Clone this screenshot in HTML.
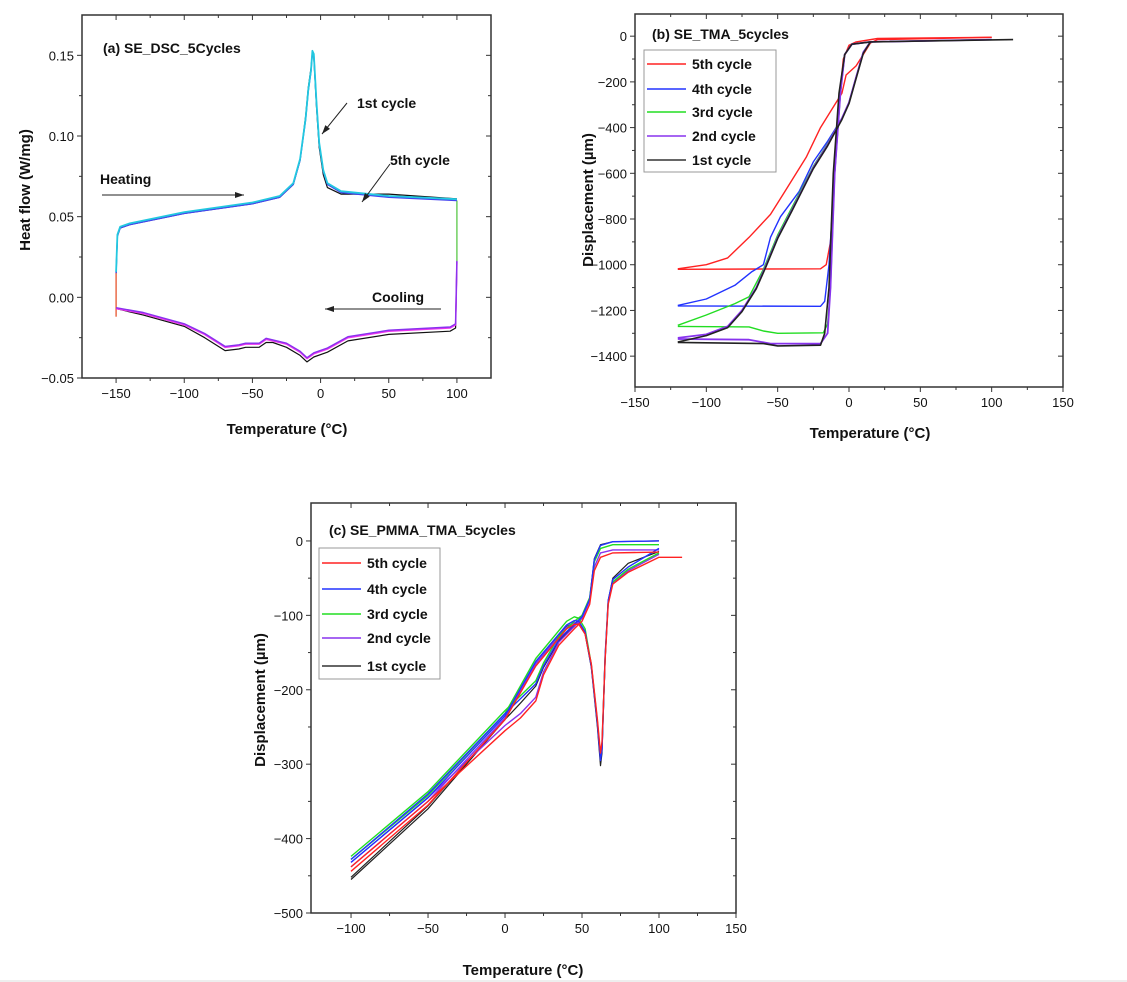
<!DOCTYPE html>
<html><head><meta charset="utf-8">
<style>
html,body{margin:0;padding:0;background:#fff;}
svg{display:block;font-family:"Liberation Sans",sans-serif;}
.tk{font-size:13px;fill:#111;}
.ttl{font-size:15px;font-weight:bold;fill:#111;}
.lab{font-size:14px;font-weight:bold;fill:#111;}
</style></head>
<body>
<svg id="fig" width="1127" height="982" viewBox="0 0 1127 982"></svg>
<script>
// ---------- Panel (a) data: DSC ----------
const aXTicks = [-150,-100,-50,0,50,100];
const aYTicks = [-0.05,0,0.05,0.10,0.15];
const aYTickLabels = ["\u22120.05","0.00","0.05","0.10","0.15"];
const aHeatX = [-150,-149,-147,-140,-100,-50,-30,-20,-15,-11,-9,-7,-6,-5,-3,-1,2,5,15,50,100];
const aHeatY = [0.015,0.038,0.043,0.045,0.052,0.058,0.062,0.070,0.085,0.110,0.128,0.140,0.152,0.150,0.120,0.095,0.078,0.070,0.065,0.062,0.060];
const aHeatBlackY = [0.015,0.038,0.043,0.045,0.052,0.058,0.062,0.070,0.085,0.112,0.130,0.142,0.151,0.149,0.118,0.093,0.076,0.068,0.064,0.064,0.061];
const aCoolX = [100,99,95,50,20,5,-5,-10,-15,-25,-35,-40,-45,-55,-60,-70,-85,-100,-130,-150];
const aCoolY = [0.022,-0.017,-0.019,-0.021,-0.025,-0.032,-0.035,-0.038,-0.034,-0.029,-0.027,-0.026,-0.029,-0.029,-0.030,-0.031,-0.023,-0.017,-0.010,-0.007];
const aCoolBlackY = [0.022,-0.019,-0.021,-0.023,-0.027,-0.034,-0.037,-0.040,-0.036,-0.031,-0.028,-0.028,-0.031,-0.031,-0.032,-0.033,-0.025,-0.018,-0.011,-0.007];

// ---------- Panel (b) data: TMA ----------
const bXTicks = [-150,-100,-50,0,50,100,150];
const bYTicks = [0,-200,-400,-600,-800,-1000,-1200,-1400];
const bRedX = [-120,-20,-16,-13,-10,-7,-4,0,5,20,100];
const bRedY = [-1020,-1018,-1000,-900,-600,-300,-100,-40,-25,-10,-5];
const bRed2X = [-120,-100,-85,-70,-55,-45,-30,-20,-12,-5,-2,5,10,15,20,100];
const bRed2Y = [-1018,-1000,-970,-880,-780,-680,-530,-400,-320,-250,-170,-130,-80,-30,-15,-5];
const bBlueX = [-120,-20,-17,-14,-10,-6,-3,2,15,100];
const bBlueY = [-1180,-1182,-1160,-1000,-600,-250,-80,-35,-25,-15];
const bBlue2X = [-120,-100,-80,-68,-60,-55,-48,-35,-25,-15,-5,0,5,10,15];
const bBlue2Y = [-1178,-1150,-1090,-1030,-1000,-880,-790,-680,-550,-460,-360,-290,-180,-70,-25];
const bGreenX = [-120,-70,-60,-50,-18,-15,-13,-10,-6,-3,2,15,100];
const bGreenY = [-1270,-1272,-1290,-1300,-1298,-1260,-1100,-600,-250,-80,-35,-25,-15];
const bGreen2X = [-120,-100,-80,-70,-60,-50,-40,-25,-15,-5,0,5,10,15];
const bGreen2Y = [-1265,-1220,-1170,-1140,-1020,-870,-750,-570,-470,-360,-290,-180,-70,-25];
const bPurpleX = [-120,-70,-55,-20,-15,-13,-10,-6,-3,2,15,100];
const bPurpleY = [-1325,-1328,-1345,-1345,-1300,-1100,-600,-250,-80,-35,-25,-15];
const bPurple2X = [-120,-100,-85,-75,-65,-58,-50,-40,-25,-15,-5,0,5,10,15];
const bPurple2Y = [-1320,-1305,-1270,-1200,-1100,-1000,-880,-760,-575,-475,-360,-290,-180,-70,-25];
const bBlackX = [-120,-60,-50,-20,-17,-14,-11,-7,-3,2,15,115];
const bBlackY = [-1340,-1345,-1355,-1352,-1300,-1100,-600,-250,-80,-35,-25,-15];
const bBlack2X = [-120,-100,-85,-75,-65,-58,-50,-40,-25,-15,-5,0,5,10,15];
const bBlack2Y = [-1338,-1310,-1275,-1205,-1105,-1005,-885,-765,-580,-480,-365,-295,-185,-75,-25];

// ---------- Panel (c) data: PMMA TMA ----------
const cXTicks = [-100,-50,0,50,100,150];
const cYTicks = [0,-100,-200,-300,-400,-500];
const cHeatX = [-100,-50,0,10,20,25,35,45,50,55,58,62,70,100];
const cCoolX = [100,80,70,67,65,63,62,60,56,52,48,45,40,20,0,-50,-100];
const cRedCoolX = [115,100,80,70,67,65,63,62,60,56,52,48,45,40,20,0,-50,-100];
const cRedH = [-438,-350,-255,-238,-215,-180,-140,-118,-108,-85,-40,-22,-16,-15];
const cRedC = [-22,-22,-42,-58,-85,-160,-270,-285,-240,-165,-125,-112,-112,-118,-168,-240,-355,-444];
const cBlueH = [-428,-340,-232,-212,-192,-168,-132,-112,-102,-78,-25,-6,-1,0];
const cBlueC = [-10,-35,-52,-80,-155,-280,-295,-245,-168,-122,-108,-107,-113,-162,-235,-345,-432];
const cGreenH = [-424,-337,-228,-208,-188,-164,-128,-108,-100,-76,-28,-10,-5,-5];
const cGreenC = [-16,-38,-55,-82,-157,-275,-290,-243,-166,-118,-104,-102,-108,-158,-232,-342,-428];
const cPurpleH = [-432,-345,-248,-232,-210,-176,-136,-115,-104,-80,-35,-16,-12,-12];
const cPurpleC = [-18,-40,-56,-83,-158,-278,-292,-244,-167,-124,-110,-110,-116,-165,-238,-350,-438];
const cBlackH = [-452,-356,-240,-218,-195,-170,-134,-114,-104,-78,-24,-5,-1,0];
const cBlackC = [-14,-30,-50,-80,-160,-285,-302,-250,-170,-125,-112,-110,-115,-165,-240,-360,-455];

const NS="http://www.w3.org/2000/svg";
const svg=document.getElementById('fig');
function mk(tag,attrs,parent){const e=document.createElementNS(NS,tag);for(const k in attrs)e.setAttribute(k,attrs[k]);(parent||svg).appendChild(e);return e;}
function txt(x,y,s,cls,anchor,parent){const t=mk('text',{x:x,y:y,class:cls,'text-anchor':anchor||'start'},parent);t.textContent=s;return t;}

function axes(P){
  const g=mk('g',{});
  
  
  mk('rect',{x:P.l,y:P.t,width:P.r-P.l,height:P.b-P.t,fill:'none',stroke:'#333','stroke-width':1.5},g);
  P.xt.forEach((v,i)=>{const x=P.sx(v);
    mk('line',{x1:x,y1:P.b,x2:x,y2:P.b+5,stroke:'#333'},g);
    mk('line',{x1:x,y1:P.t,x2:x,y2:P.t+5,stroke:'#333'},g);
    const t=txt(x,P.b+20,(v<0?'\u2212'+(-v):String(v)),'tk','middle',g);
    
    if(i<P.xt.length-1){const xm=P.sx(v+(P.xt[1]-P.xt[0])/2);
      mk('line',{x1:xm,y1:P.b,x2:xm,y2:P.b+3,stroke:'#333'},g);
      mk('line',{x1:xm,y1:P.t,x2:xm,y2:P.t+3,stroke:'#333'},g);}
  });
  P.yt.forEach((v,i)=>{const y=P.sy(v);
    mk('line',{x1:P.l-5,y1:y,x2:P.l,y2:y,stroke:'#333'},g);
    mk('line',{x1:P.r-5,y1:y,x2:P.r,y2:y,stroke:'#333'},g);
    const s=P.ytl?P.ytl[i]:(v<0?'\u2212'+(-v):String(v));
    const t=txt(P.l-8,y+5,s,'tk','end',g);
    
    if(i<P.yt.length-1){const ym=P.sy((v+P.yt[i+1])/2);
      mk('line',{x1:P.l-3,y1:ym,x2:P.l,y2:ym,stroke:'#333'},g);
      mk('line',{x1:P.r-3,y1:ym,x2:P.r,y2:ym,stroke:'#333'},g);}
  });
}
function line(P,xs,ys,color,name,w){
  const d=xs.map((x,i)=>(i?'L':'M')+P.sx(x).toFixed(1)+' '+P.sy(ys[i]).toFixed(1)).join(' ');
  const p=mk('path',{d:d,fill:'none',stroke:color,'stroke-width':w||1.4,'stroke-linejoin':'round'});
  
  
  return p;
}
function mkP(name,l,r,t,b,x0,x1,y0,y1,xt,yt,ytl){
  return {name,l,r,t,b,xt,yt,ytl,sx:v=>l+(v-x0)/(x1-x0)*(r-l),sy:v=>b-(v-y0)/(y1-y0)*(b-t)};
}
function arrow(x1,y1,x2,y2,name){
  const g=mk('g',{});
  
  
  mk('line',{x1,y1,x2,y2,stroke:'#222','stroke-width':1},g);
  const a=Math.atan2(y2-y1,x2-x1),L=9,W=3;
  const p=[[x2,y2],[x2-L*Math.cos(a)+W*Math.sin(a),y2-L*Math.sin(a)-W*Math.cos(a)],[x2-L*Math.cos(a)-W*Math.sin(a),y2-L*Math.sin(a)+W*Math.cos(a)]];
  mk('polygon',{points:p.map(q=>q.join(',')).join(' '),fill:'#222'},g);
}
function legend(x0,y0,w,h,ys,items){
  const g=mk('g',{});
  
  
  mk('rect',{x:x0,y:y0,width:w,height:h,fill:'#fff',stroke:'#999'},g);
  items.forEach((it,i)=>{
    const e=mk('g',{},g);
    
    
    mk('line',{x1:x0+3,y1:ys[i],x2:x0+42,y2:ys[i],stroke:it[1],'stroke-width':1.6},e);
    txt(x0+48,ys[i]+5,it[0],'lab','start',e);
  });
}

// ===== Panel a =====
const A=mkP('dsc',82,491,15,378,-175,125,-0.05,0.175,aXTicks,aYTicks,aYTickLabels);
axes(A);
line(A,[-150,-150],[0.015,-0.012],'#e8603c','heat-start-segment');
line(A,[100,100],[0.060,0.022],'#66cc55','cool-start-segment');
line(A,aHeatX,aHeatBlackY,'#111','heating-cycle-1',1.2);
line(A,aHeatX,aHeatY,'#4444ee','heating-cycle-3',1.4);
line(A,aHeatX,aHeatY.map(v=>v+0.0008),'#22c8e0','heating-cycle-5',1.8);
line(A,aCoolX,aCoolBlackY,'#111','cooling-cycle-1',1.2);
line(A,aCoolX,aCoolY,'#ee33ee','cooling-cycle-5',1.6);
line(A,aCoolX,aCoolY.map(v=>v+0.0006),'#8833ee','cooling-cycle-2',1.4);
txt(103,53,'(a) SE_DSC_5Cycles','lab');
txt(357,108,'1st cycle','lab');
txt(390,165,'5th cycle','lab');
txt(100,184,'Heating','lab');
txt(372,302,'Cooling','lab');
arrow(347,103,322,134,'arrow-1st-cycle');
arrow(390,164,362,202,'arrow-5th-cycle');
arrow(102,195,244,195,'arrow-heating');
arrow(441,309,325,309,'arrow-cooling');
let t=txt(287,434,'Temperature (°C)','ttl','middle');
t=txt(0,0,'Heat flow (W/mg)','ttl','middle');t.setAttribute('transform','translate(30,190) rotate(-90)');

// ===== Panel b =====
const B=mkP('tma',635,1063,14,387,-150,150,-1535,97,bXTicks,bYTicks);
axes(B);
line(B,bRedX,bRedY,'#ff2222','cycle-5-heat');line(B,bRed2X,bRed2Y,'#ff2222','cycle-5-cool');
line(B,bBlueX,bBlueY,'#2233ff','cycle-4-heat');line(B,bBlue2X,bBlue2Y,'#2233ff','cycle-4-cool');
line(B,bGreenX,bGreenY,'#22dd22','cycle-3-heat');line(B,bGreen2X,bGreen2Y,'#22dd22','cycle-3-cool');
line(B,bPurpleX,bPurpleY,'#8833ee','cycle-2-heat',1.8);line(B,bPurple2X,bPurple2Y,'#8833ee','cycle-2-cool',1.8);
line(B,bBlackX,bBlackY,'#222','cycle-1-heat',1.6);line(B,bBlack2X,bBlack2Y,'#222','cycle-1-cool',1.6);
txt(652,39,'(b) SE_TMA_5cycles','lab');
legend(644,50,132,122,[64,89,112,136,160],[['5th cycle','#ff2222'],['4th cycle','#2233ff'],['3rd cycle','#22dd22'],['2nd cycle','#8833ee'],['1st cycle','#333']]);
t=txt(870,438,'Temperature (°C)','ttl','middle');
t=txt(0,0,'Displacement (µm)','ttl','middle');t.setAttribute('transform','translate(593,200) rotate(-90)');

// ===== Panel c =====
const C=mkP('pmma',311,736,503,913,-126,150,-500,51,cXTicks,cYTicks);
axes(C);
line(C,cHeatX,cBlackH,'#222','cycle-1-heat',1.2);line(C,cCoolX,cBlackC,'#222','cycle-1-cool',1.2);
line(C,cHeatX,cPurpleH,'#8833ee','cycle-2-heat');line(C,cCoolX,cPurpleC,'#8833ee','cycle-2-cool');
line(C,cHeatX,cGreenH,'#22dd22','cycle-3-heat');line(C,cCoolX,cGreenC,'#22dd22','cycle-3-cool');
line(C,cHeatX,cBlueH,'#2233ff','cycle-4-heat');line(C,cCoolX,cBlueC,'#2233ff','cycle-4-cool');
line(C,cHeatX,cRedH,'#ff2222','cycle-5-heat');
line(C,cRedCoolX,cRedC,'#ff2222','cycle-5-cool');
txt(329,535,'(c) SE_PMMA_TMA_5cycles','lab');
legend(319,548,121,131,[563,589,614,638,666],[['5th cycle','#ff2222'],['4th cycle','#2233ff'],['3rd cycle','#22dd22'],['2nd cycle','#8833ee'],['1st cycle','#333']]);
t=txt(523,975,'Temperature (°C)','ttl','middle');
t=txt(0,0,'Displacement (µm)','ttl','middle');t.setAttribute('transform','translate(265,700) rotate(-90)');
mk('line',{x1:0,y1:981,x2:1127,y2:981,stroke:'#ddd'});
</script>
</body></html>
